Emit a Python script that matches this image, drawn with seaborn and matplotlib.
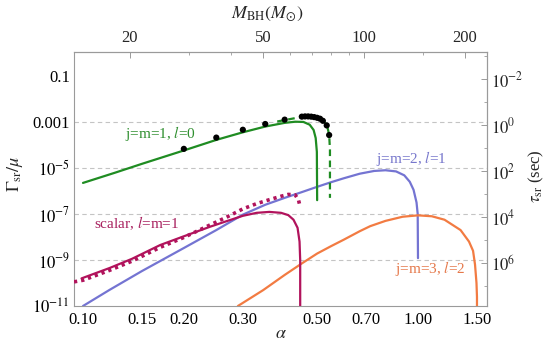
import numpy as np
import pandas as pd
import matplotlib
matplotlib.use("Agg")
import matplotlib.pyplot as plt
import seaborn as sns
from matplotlib.ticker import FixedLocator, FixedFormatter, NullFormatter

# ---- superradiant rates, log10(Gamma_sr / mu) versus alpha ----
vec1_alpha = [0.1, 0.125, 0.15, 0.2, 0.25, 0.3, 0.35, 0.4, 0.43, 0.455, 0.475, 0.488, 0.495, 0.499, 0.5]
vec1_lograte = [-5.65, -5.2, -4.82, -4.24, -3.78, -3.45, -3.2, -3.04, -2.99, -3.0, -3.12, -3.35, -3.7, -4.3, -6.4]

vec1_full_alpha = [0.38, 0.4, 0.45, 0.48, 0.5, 0.52, 0.535, 0.543, 0.546, 0.546]
vec1_full_lograte = [-2.98, -2.92, -2.78, -2.76, -2.79, -2.93, -3.15, -3.55, -4.2, -6.3]

vec1_num_alpha = [0.2, 0.25, 0.3, 0.35, 0.4, 0.45, 0.46, 0.47, 0.48, 0.49, 0.5, 0.51, 0.52, 0.534, 0.543]
vec1_num_lograte = [-4.17, -3.68, -3.34, -3.09, -2.9, -2.77, -2.76, -2.76, -2.77, -2.79, -2.82, -2.86, -2.95, -3.15, -3.57]

vec2_alpha = [0.1, 0.12, 0.15, 0.2, 0.25, 0.3, 0.35, 0.4, 0.45, 0.5, 0.55, 0.6, 0.67, 0.74, 0.8, 0.86,
              0.91, 0.945, 0.97, 0.99, 0.998, 1.0]
vec2_lograte = [-11.0, -10.3, -9.48, -8.48, -7.7, -7.03, -6.6, -6.3, -6.05, -5.82, -5.62, -5.45, -5.25, -5.13,
                -5.1, -5.15, -5.32, -5.6, -5.95, -6.5, -7.0, -8.92]

vec3_alpha = [0.29, 0.345, 0.4, 0.45, 0.5, 0.55, 0.6, 0.67, 0.72, 0.8, 0.9, 1.0, 1.1, 1.2, 1.34, 1.42, 1.46,
              1.48, 1.495, 1.5, 1.5]
vec3_lograte = [-11.0, -10.31, -9.65, -9.15, -8.72, -8.4, -8.12, -7.75, -7.53, -7.3, -7.12, -7.06, -7.1, -7.25,
                -7.7, -8.2, -8.6, -9.2, -10.0, -10.6, -11.5]

scalar_alpha = [0.099, 0.12, 0.14, 0.17, 0.2, 0.24, 0.27, 0.3, 0.33, 0.36, 0.39, 0.41, 0.425, 0.437, 0.443,
                0.445, 0.445]
scalar_lograte = [-9.8, -9.35, -8.95, -8.35, -7.97, -7.55, -7.3, -7.08, -6.95, -6.91, -6.95, -7.05, -7.25,
                  -7.6, -8.2, -9.0, -11.5]

scalar_num_alpha = [0.094, 0.1, 0.12, 0.14, 0.17, 0.2, 0.24, 0.27, 0.3, 0.33, 0.36, 0.39, 0.41, 0.43, 0.44, 0.445]
scalar_num_lograte = [-9.95, -9.88, -9.45, -9.05, -8.45, -8.02, -7.47, -7.12, -6.78, -6.55, -6.38, -6.23,
                      -6.15, -6.17, -6.4, -6.7]

# ---- axis ticks ----
alpha_ticks = [0.10, 0.15, 0.20, 0.30, 0.50, 0.70, 1.00, 1.50]
alpha_minor = [0.11, 0.12, 0.13, 0.14, 0.16, 0.17, 0.18, 0.19, 0.25, 0.35, 0.4, 0.45, 0.6, 0.8, 0.9,
               1.1, 1.2, 1.3, 1.4]
rate_ticks = [1e-11, 1e-9, 1e-7, 1e-5, 1e-3, 1e-1]
rate_labels = [r"$10^{-11}$", r"$10^{-9}$", r"$10^{-7}$", r"$10^{-5}$", "0.001", "0.1"]
mass_ticks = [20, 50, 100, 200]
mass_minor = [30, 40, 60, 70, 80, 90, 150]
tau_ticks = [1e-2, 1e0, 1e2, 1e4, 1e6]
tau_labels = [r"$10^{-2}$", r"$10^{0}$", r"$10^{2}$", r"$10^{4}$", r"$10^{6}$"]
tau_minor = [1e-3, 1e-1, 1e1, 1e3, 1e5, 1e7]

MASS_PER_ALPHA = 145.0   # M_BH / M_sun for unit alpha
TAU_SCALE = 7.2e-4       # tau_sr (sec) times Gamma_sr / mu

GREEN, BLUE, ORANGE, CRIMSON = "#1f8c22", "#7474d2", "#f27b42", "#b1135c"
FRAME = "#9a9a9a"

sns.set_theme(style="white")
plt.rcParams["font.serif"] = ["Liberation Serif", "DejaVu Serif"]
plt.rcParams["font.family"] = "serif"
plt.rcParams["mathtext.fontset"] = "stix"

fig = plt.figure(figsize=(5.47, 3.47), dpi=100)
ax = fig.add_axes([74 / 547, 41 / 347, 413 / 547, 254 / 347])
ax.set_xscale("log")
ax.set_yscale("log")


def frame(a_list, e_list):
    return pd.DataFrame({"alpha": a_list, "rate": 10.0 ** np.asarray(e_list, dtype=float)})


for level in [1e-3, 1e-5, 1e-7, 1e-9]:
    ax.axhline(level, color="#c4c4c4", lw=0.8, dashes=(4, 3), zorder=0)

sns.lineplot(data=frame(scalar_num_alpha, scalar_num_lograte), x="alpha", y="rate", ax=ax, sort=False,
             estimator=None, color=CRIMSON, lw=2.6, linestyle=(0, (0.9, 1.1)), zorder=3)
sns.lineplot(data=frame(scalar_alpha, scalar_lograte), x="alpha", y="rate", ax=ax, sort=False,
             estimator=None, color=CRIMSON, lw=1.6, zorder=3)
sns.lineplot(data=frame(vec2_alpha, vec2_lograte), x="alpha", y="rate", ax=ax, sort=False,
             estimator=None, color=BLUE, lw=1.6, zorder=2)
sns.lineplot(data=frame(vec3_alpha, vec3_lograte), x="alpha", y="rate", ax=ax, sort=False,
             estimator=None, color=ORANGE, lw=1.6, zorder=2)
sns.lineplot(data=frame(vec1_full_alpha, vec1_full_lograte), x="alpha", y="rate", ax=ax, sort=False,
             estimator=None, color=GREEN, lw=1.6, linestyle=(0, (3.0, 2.0)), zorder=3)
sns.lineplot(data=frame(vec1_alpha, vec1_lograte), x="alpha", y="rate", ax=ax, sort=False,
             estimator=None, color=GREEN, lw=1.6, zorder=3)
sns.scatterplot(data=frame(vec1_num_alpha, vec1_num_lograte), x="alpha", y="rate", ax=ax,
                color="black", s=20, edgecolor="none", zorder=5)

ax.set_xlim(0.094, 1.607)
ax.set_ylim(1e-11, 10 ** 0.04)
ax.set_xlabel("")
ax.set_ylabel("")

# curve labels
ax.text(0.170, 10 ** -3.51, "j=m=1, $l$=0", color="#2f8f2f", ha="center", va="center", fontsize=11)
ax.text(0.952, 10 ** -4.59, "j=m=2, $l$=1", color="#7777cc", ha="center", va="center", fontsize=11)
ax.text(0.145, 10 ** -7.41, "scalar, $l$=m=1", color="#a8205e", ha="center", va="center", fontsize=11)
ax.text(1.088, 10 ** -9.35, "j=m=3, $l$=2", color="#e5784a", ha="center", va="center", fontsize=11)

# bottom / left ticks
ax.xaxis.set_major_locator(FixedLocator(alpha_ticks))
ax.xaxis.set_major_formatter(FixedFormatter([f"{v:.2f}" for v in alpha_ticks]))
ax.xaxis.set_minor_locator(FixedLocator(alpha_minor))
ax.xaxis.set_minor_formatter(NullFormatter())
ax.yaxis.set_major_locator(FixedLocator(rate_ticks))
ax.yaxis.set_major_formatter(FixedFormatter(rate_labels))
ax.yaxis.set_minor_locator(FixedLocator([m * 10.0 ** k for k in range(-12, 1) for m in range(2, 10)]
                                        + [10.0 ** k for k in (-10, -8, -6, -4, -2, 0)]))
ax.yaxis.set_minor_formatter(NullFormatter())
ax.tick_params(axis="both", which="both", direction="in", color=FRAME, labelcolor="black",
               labelsize=12, top=False, right=False)
ax.tick_params(axis="both", which="major", length=4, width=0.7)
ax.tick_params(axis="both", which="minor", length=2, width=0.6)
ax.tick_params(axis="x", pad=4)
ax.tick_params(axis="y", pad=3)
for sp in ax.spines.values():
    sp.set_color(FRAME)
    sp.set_linewidth(0.8)


def to_mass(a):
    return np.asarray(a, dtype=float) * MASS_PER_ALPHA


def to_alpha(m):
    return np.asarray(m, dtype=float) / MASS_PER_ALPHA


def to_tau(g):
    g = np.asarray(g, dtype=float)
    with np.errstate(divide="ignore"):
        return TAU_SCALE / g


top = ax.secondary_xaxis("top", functions=(to_mass, to_alpha))
top.xaxis.set_major_locator(FixedLocator(mass_ticks))
top.xaxis.set_major_formatter(FixedFormatter([str(v) for v in mass_ticks]))
top.xaxis.set_minor_locator(FixedLocator(mass_minor))
top.xaxis.set_minor_formatter(NullFormatter())
top.tick_params(which="both", direction="in", color=FRAME, labelsize=12, pad=4)
top.tick_params(which="major", length=4, width=0.7)
top.tick_params(which="minor", length=2, width=0.6)
top.spines["top"].set_color(FRAME)
top.spines["top"].set_linewidth(0.8)

right = ax.secondary_yaxis("right", functions=(to_tau, to_tau))
right.yaxis.set_major_locator(FixedLocator(tau_ticks))
right.yaxis.set_major_formatter(FixedFormatter(tau_labels))
right.yaxis.set_minor_locator(FixedLocator(tau_minor))
right.yaxis.set_minor_formatter(NullFormatter())
right.tick_params(which="both", direction="in", color=FRAME, labelsize=12, pad=3)
right.tick_params(which="major", length=4, width=0.7)
right.tick_params(which="minor", length=2, width=0.6)
right.spines["right"].set_color(FRAME)
right.spines["right"].set_linewidth(0.8)

# axis titles
fig.text(281 / 547, 1 - 333 / 347, r"$\alpha$", ha="center", va="center", fontsize=13)
fig.text(267 / 547, 1 - 14 / 347, r"$M_{\rm BH}(M_{\odot})$", ha="center", va="center", fontsize=13)
fig.text(15 / 547, 1 - 174 / 347, r"$\Gamma_{\rm sr}/\mu$", ha="center", va="center", fontsize=13,
         rotation=90)
fig.text(536 / 547, 1 - 176 / 347, r"$\tau_{\rm sr}$ (sec)", ha="center", va="center", fontsize=12,
         rotation=90)

fig.savefig("out.png", dpi=100)
